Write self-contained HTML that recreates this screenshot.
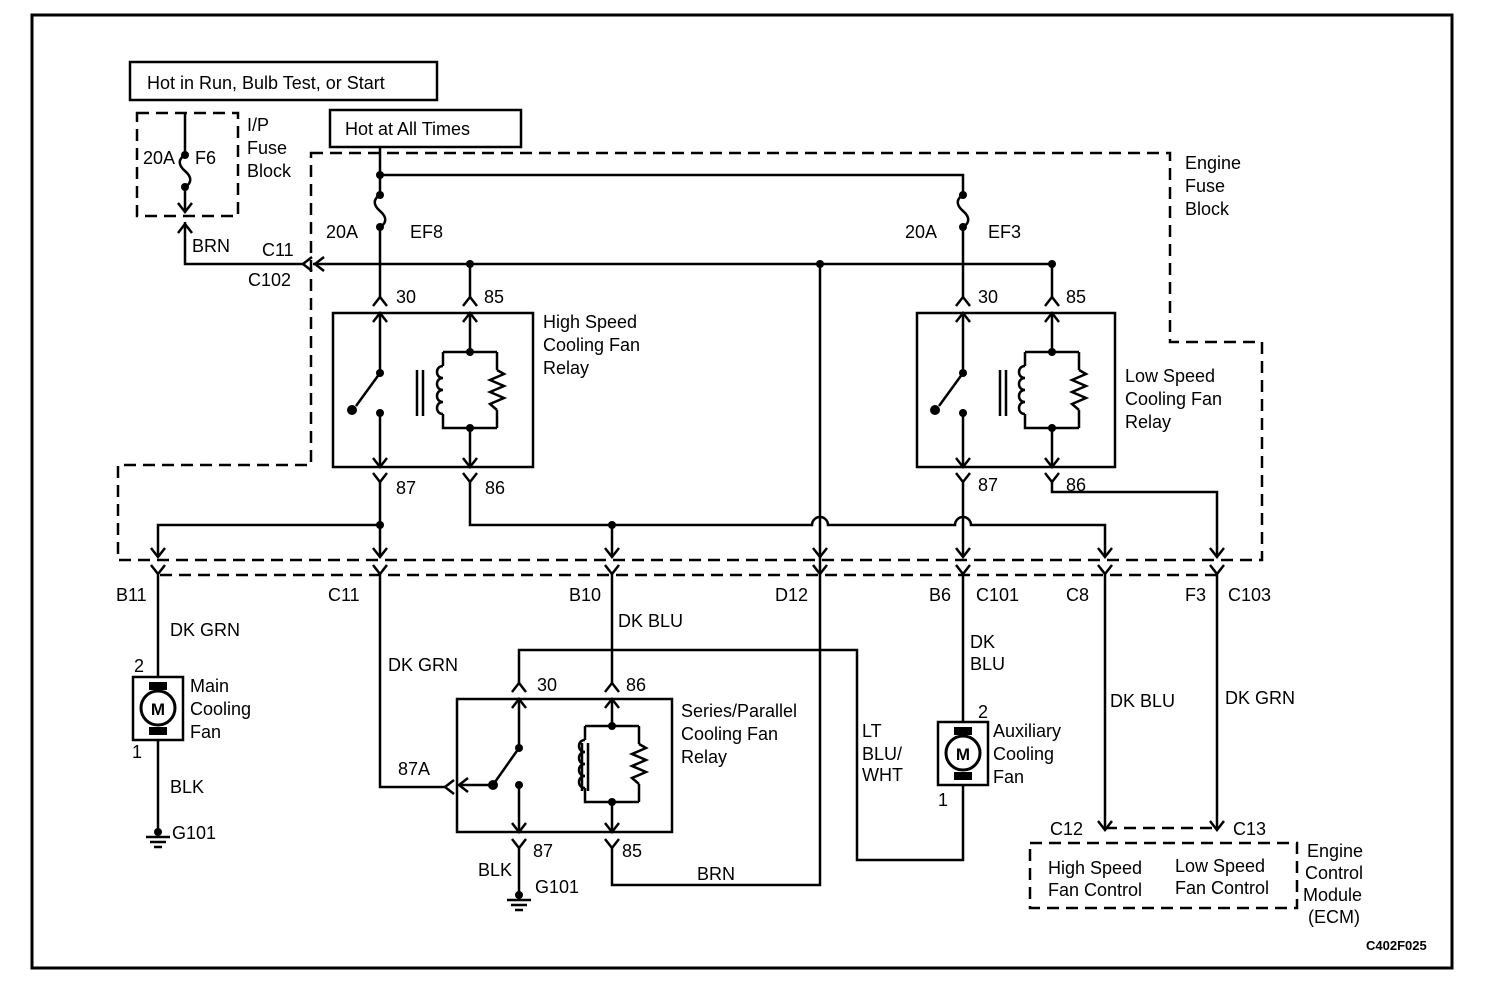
<!DOCTYPE html>
<html><head><meta charset="utf-8"><style>
html,body{margin:0;padding:0;background:#fff;}
svg{display:block}
text{font-family:"Liberation Sans",Arial,sans-serif;font-size:18px;fill:#000;}
</style></head><body>
<svg width="1504" height="998" viewBox="0 0 1504 998" xmlns="http://www.w3.org/2000/svg">
<defs>
<path id="dn" d="M-7,-9 L0,0 L7,-9" fill="none" stroke="#000" stroke-width="2.5"/>
<path id="up" d="M-7,9 L0,0 L7,9" fill="none" stroke="#000" stroke-width="2.5"/>
<path id="lf" d="M9,-7 L0,0 L9,7" fill="none" stroke="#000" stroke-width="2.5"/>
<g id="coil">
<!-- origin at top dot; frame 54 wide, 76 tall -->
<path d="M-27,0 H27 M-27,0 V14 M-27,62 V76 H27 M27,0 V18 M27,58 V76" fill="none" stroke="#000" stroke-width="2.5"/>
<path d="M-27,14 c-8,0 -8,12 0,12 c-8,0 -8,12 0,12 c-8,0 -8,12 0,12 c-8,0 -8,12 0,12" fill="none" stroke="#000" stroke-width="2.5"/>
<path d="M27,18 l7,4 l-14,6 l14,6 l-14,6 l14,6 l-14,6 l7,6" fill="none" stroke="#000" stroke-width="2.5"/>
<circle cx="0" cy="0" r="4"/><circle cx="0" cy="76" r="4"/>
</g>
<g id="gnd"><circle cx="0" cy="0" r="4"/><path d="M-12,5 H12 M-8,10 H8 M-4,15 H4" stroke="#000" stroke-width="2.5"/></g>
<g id="mot">
<rect x="-25" y="0" width="50" height="63" fill="none" stroke="#000" stroke-width="2.5"/>
<rect x="-9" y="5" width="18" height="8"/><rect x="-9" y="50" width="18" height="8"/>
<circle cx="0" cy="31" r="17" fill="#fff" stroke="#000" stroke-width="3"/>
<text x="0" y="38" text-anchor="middle" style="font-size:17px;font-weight:bold">M</text>
</g>
</defs>
<g fill="none" stroke="#000" stroke-width="2.5">
<!-- outer border -->
<rect x="32" y="15" width="1420" height="953" stroke-width="3"/>
<rect x="130" y="62" width="307" height="38"/>
<rect x="330" y="110" width="191" height="37"/>
</g>
<g fill="none" stroke="#000" stroke-width="2.5" stroke-dasharray="12,7">
<rect x="137" y="113" width="101" height="103"/>
<path d="M311,153 H1170 V342 H1262 V560 H118 V465 H311 Z"/>
<path d="M160,575 H1220"/>
<path d="M1105,828 H1215"/>
<rect x="1030" y="843" width="267" height="65"/>
</g>
<g fill="none" stroke="#000" stroke-width="2.5">
<!-- F6 -->
<path d="M185,113 V155 M185,187 V210"/>
<path d="M185,155 c-7,4 -7,10 0,16 c7,6 7,12 0,16"/>
<path d="M185,222 V264 H303"/>
<!-- main feed -->
<path d="M380,147 V195 M380,175 H963 V195"/>
<path d="M380,195 c-7,4 -7,10 0,16 c7,6 7,12 0,16 M380,227 V297"/>
<path d="M963,195 c-7,4 -7,10 0,16 c7,6 7,12 0,16 M963,227 V297"/>
<path d="M313,264 H1052 V297 M470,264 V297 M820,264 V572"/>
<!-- high relay -->
<rect x="333" y="313" width="200" height="154"/>
<path d="M380,313 V373 L356,406 M380,413 V467 M470,313 V352 M470,428 V467"/>
<path d="M417,370 V416 M423,370 V416"/>
<!-- low relay -->
<rect x="917" y="313" width="198" height="154"/>
<path d="M963,313 V373 L939,406 M963,413 V467 M1052,313 V352 M1052,428 V467"/>
<path d="M1000,370 V416 M1006,370 V416"/>
<!-- outputs -->
<path d="M380,480 V555 M380,525 H158 V555"/>
<path d="M470,480 V525 H812 a8,8 0 0 1 16,0 H955 a8,8 0 0 1 16,0 H1105 V555 M612,525 V555"/>
<path d="M963,480 V555"/>
<path d="M1052,480 V492 H1217 V555"/>
<!-- below connectors -->
<path d="M158,572 V677 M158,740 V830"/>
<path d="M380,572 V787 H447"/>
<path d="M612,572 V683"/>
<path d="M963,572 V722 M963,785 V860 H857 V650 H519 V683"/>
<path d="M1105,572 V828 M1217,572 V828"/>
<!-- series relay -->
<rect x="457" y="699" width="215" height="133"/>
<path d="M519,699 V748 L495,782 M519,785 V832 M493,785 H459 M612,699 V726 M612,805 V832"/>
<path d="M582,743 V791 M588,743 V791"/>
<path d="M519,848 V893 M612,848 V885 H820 V572"/>
</g>
<!-- dots -->
<g>
<circle cx="380" cy="175" r="4"/><circle cx="470" cy="264" r="4"/><circle cx="820" cy="264" r="4"/><circle cx="1052" cy="264" r="4"/>
<circle cx="380" cy="525" r="4"/><circle cx="612" cy="525" r="4"/>
<circle cx="185" cy="155" r="4"/><circle cx="185" cy="187" r="4"/>
<circle cx="380" cy="195" r="4"/><circle cx="380" cy="227" r="4"/><circle cx="963" cy="195" r="4"/><circle cx="963" cy="227" r="4"/>
<circle cx="380" cy="373" r="4"/><circle cx="352" cy="410" r="5"/><circle cx="380" cy="413" r="4"/>
<circle cx="963" cy="373" r="4"/><circle cx="935" cy="410" r="5"/><circle cx="963" cy="413" r="4"/>
<circle cx="519" cy="748" r="4"/><circle cx="493" cy="785" r="5"/><circle cx="519" cy="785" r="4"/>
</g>
<use href="#coil" x="470" y="352"/><use href="#coil" x="1052" y="352"/><use href="#coil" x="612" y="726"/>
<use href="#gnd" x="158" y="832"/><use href="#gnd" x="519" y="895"/>
<use href="#mot" x="158" y="677"/><use href="#mot" x="963" y="722"/>
<!-- connectors -->
<use href="#dn" x="185" y="212"/><use href="#up" x="185" y="224"/>
<use href="#lf" x="303" y="264"/><use href="#lf" x="315" y="264"/>
<use href="#up" x="380" y="297"/><use href="#up" x="380" y="313"/>
<use href="#up" x="470" y="297"/><use href="#up" x="470" y="313"/>
<use href="#up" x="963" y="297"/><use href="#up" x="963" y="313"/>
<use href="#up" x="1052" y="297"/><use href="#up" x="1052" y="313"/>
<use href="#dn" x="380" y="467"/><use href="#dn" x="380" y="482"/>
<use href="#dn" x="470" y="467"/><use href="#dn" x="470" y="482"/>
<use href="#dn" x="963" y="467"/><use href="#dn" x="963" y="482"/>
<use href="#dn" x="1052" y="467"/><use href="#dn" x="1052" y="482"/>
<use href="#dn" x="158" y="557"/><use href="#dn" x="158" y="574"/>
<use href="#dn" x="380" y="557"/><use href="#dn" x="380" y="574"/>
<use href="#dn" x="612" y="557"/><use href="#dn" x="612" y="574"/>
<use href="#dn" x="820" y="574"/><use href="#dn" x="820" y="557"/>
<use href="#dn" x="963" y="557"/><use href="#dn" x="963" y="574"/>
<use href="#dn" x="1105" y="557"/><use href="#dn" x="1105" y="574"/>
<use href="#dn" x="1217" y="557"/><use href="#dn" x="1217" y="574"/>
<use href="#up" x="519" y="683"/><use href="#up" x="519" y="699"/>
<use href="#up" x="612" y="683"/><use href="#up" x="612" y="699"/>
<use href="#dn" x="519" y="832"/><use href="#dn" x="519" y="848"/>
<use href="#dn" x="612" y="832"/><use href="#dn" x="612" y="848"/>
<use href="#lf" x="445" y="787"/><use href="#lf" x="459" y="785"/>
<use href="#dn" x="1105" y="830"/><use href="#dn" x="1217" y="830"/>
<!-- text -->
<text x="147" y="89">Hot in Run, Bulb Test, or Start</text>
<text x="345" y="135">Hot at All Times</text>
<text x="247" y="131">I/P</text><text x="247" y="154">Fuse</text><text x="247" y="177">Block</text>
<text x="143" y="164">20A</text><text x="195" y="164">F6</text>
<text x="192" y="252">BRN</text>
<text x="262" y="256">C11</text><text x="248" y="286">C102</text>
<text x="326" y="238">20A</text><text x="410" y="238">EF8</text>
<text x="905" y="238">20A</text><text x="988" y="238">EF3</text>
<text x="1185" y="169">Engine</text><text x="1185" y="192">Fuse</text><text x="1185" y="215">Block</text>
<text x="396" y="303">30</text><text x="484" y="303">85</text>
<text x="978" y="303">30</text><text x="1066" y="303">85</text>
<text x="543" y="328">High Speed</text><text x="543" y="351">Cooling Fan</text><text x="543" y="374">Relay</text>
<text x="1125" y="382">Low Speed</text><text x="1125" y="405">Cooling Fan</text><text x="1125" y="428">Relay</text>
<text x="396" y="494">87</text><text x="485" y="494">86</text>
<text x="978" y="491">87</text><text x="1066" y="491">86</text>
<text x="116" y="601">B11</text><text x="328" y="601">C11</text><text x="569" y="601">B10</text>
<text x="775" y="601">D12</text><text x="929" y="601">B6</text><text x="976" y="601">C101</text>
<text x="1066" y="601">C8</text><text x="1185" y="601">F3</text><text x="1228" y="601">C103</text>
<text x="170" y="636">DK GRN</text>
<text x="134" y="672">2</text><text x="132" y="758">1</text>
<text x="190" y="692">Main</text><text x="190" y="715">Cooling</text><text x="190" y="738">Fan</text>
<text x="170" y="793">BLK</text><text x="172" y="839">G101</text>
<text x="388" y="671">DK GRN</text>
<text x="618" y="627">DK BLU</text>
<text x="537" y="691">30</text><text x="626" y="691">86</text>
<text x="681" y="717">Series/Parallel</text><text x="681" y="740">Cooling Fan</text><text x="681" y="763">Relay</text>
<text x="398" y="775">87A</text>
<text x="533" y="857">87</text><text x="622" y="857">85</text>
<text x="478" y="876">BLK</text><text x="535" y="893">G101</text>
<text x="697" y="880">BRN</text>
<text x="862" y="737">LT</text><text x="862" y="760">BLU/</text><text x="862" y="781">WHT</text>
<text x="970" y="648">DK</text><text x="970" y="670">BLU</text>
<text x="978" y="718">2</text><text x="938" y="806">1</text>
<text x="993" y="737">Auxiliary</text><text x="993" y="760">Cooling</text><text x="993" y="783">Fan</text>
<text x="1110" y="707">DK BLU</text><text x="1225" y="704">DK GRN</text>
<text x="1050" y="835">C12</text><text x="1233" y="835">C13</text>
<text x="1048" y="874">High Speed</text><text x="1048" y="896">Fan Control</text>
<text x="1175" y="872">Low Speed</text><text x="1175" y="894">Fan Control</text>
<text x="1307" y="857">Engine</text><text x="1305" y="879">Control</text><text x="1303" y="901">Module</text><text x="1308" y="923">(ECM)</text>
<text x="1366" y="950" style="font-size:13px;font-weight:bold">C402F025</text>
</svg>
</body></html>
